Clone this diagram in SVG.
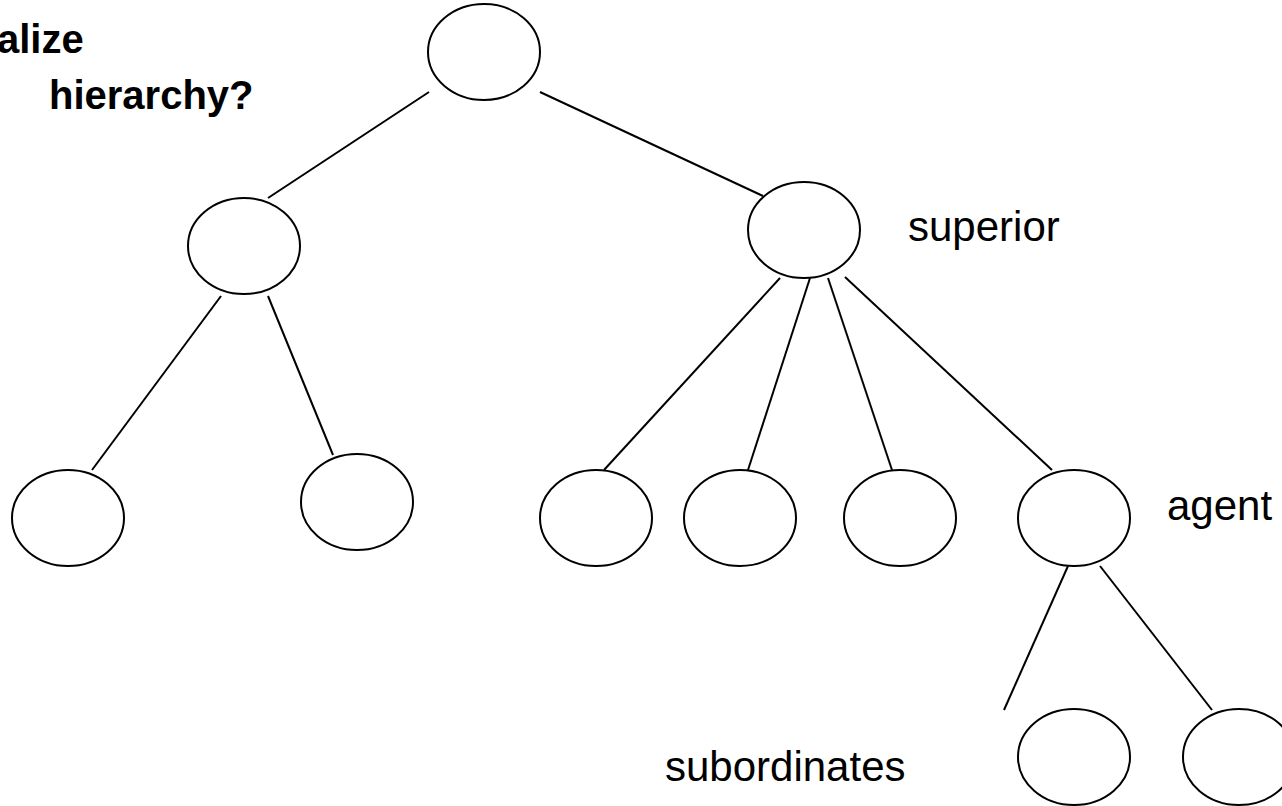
<svg xmlns="http://www.w3.org/2000/svg" width="1282" height="806" viewBox="0 0 1282 806">
  <style>
    .node { fill: #ffffff; stroke: #000000; stroke-width: 2; }
    .edge { stroke: #000000; stroke-width: 2; fill: none; }
    .label { font-family: "Liberation Sans", Arial, sans-serif; font-size: 42px; fill: #000000; }
    .title { font-family: "Liberation Sans", Arial, sans-serif; font-size: 40px; font-weight: bold; fill: #000000; }
  </style>
  <rect width="1282" height="806" fill="#ffffff"/>

  <!-- title, partly cut off at the left edge -->
  <g id="title">
    <text class="title" x="-3" y="53">alize</text>
    <text class="title" x="49" y="109">hierarchy?</text>
  </g>

  <!-- connectors -->
  <g id="connectors">
    <line class="edge" x1="429" y1="92" x2="268" y2="198"/>
    <line class="edge" x1="540" y1="92" x2="763" y2="196"/>
    <line class="edge" x1="221" y1="296" x2="92" y2="470"/>
    <line class="edge" x1="268" y1="296" x2="333" y2="455"/>
    <line class="edge" x1="780" y1="278" x2="604" y2="470"/>
    <line class="edge" x1="810" y1="278" x2="748" y2="470"/>
    <line class="edge" x1="828" y1="278" x2="892" y2="470"/>
    <line class="edge" x1="845" y1="277" x2="1052" y2="470"/>
    <line class="edge" x1="1068" y1="566" x2="1004" y2="710"/>
    <line class="edge" x1="1100" y1="566" x2="1212" y2="710"/>
  </g>

  <!-- nodes -->
  <g id="root"><ellipse class="node" cx="484" cy="52" rx="56" ry="48"/></g>
  <g id="left-branch"><ellipse class="node" cx="244" cy="246" rx="56" ry="48"/></g>
  <g id="superior-node">
    <ellipse class="node" cx="804" cy="230" rx="56" ry="48"/>
    <text class="label" x="908" y="241">superior</text>
  </g>
  <g id="leaf-1"><ellipse class="node" cx="68" cy="518" rx="56" ry="48"/></g>
  <g id="leaf-2"><ellipse class="node" cx="357" cy="502" rx="56" ry="48"/></g>
  <g id="leaf-3"><ellipse class="node" cx="596" cy="518" rx="56" ry="48"/></g>
  <g id="leaf-4"><ellipse class="node" cx="740" cy="518" rx="56" ry="48"/></g>
  <g id="leaf-5"><ellipse class="node" cx="900" cy="518" rx="56" ry="48"/></g>
  <g id="agent-node">
    <ellipse class="node" cx="1074" cy="518" rx="56" ry="48"/>
    <text class="label" x="1167" y="520">agent</text>
  </g>
  <g id="subordinate-1">
    <ellipse class="node" cx="1074" cy="757" rx="56" ry="48"/>
    <text class="label" x="665" y="781">subordinates</text>
  </g>
  <g id="subordinate-2"><ellipse class="node" cx="1239" cy="757" rx="56" ry="48"/></g>
</svg>
